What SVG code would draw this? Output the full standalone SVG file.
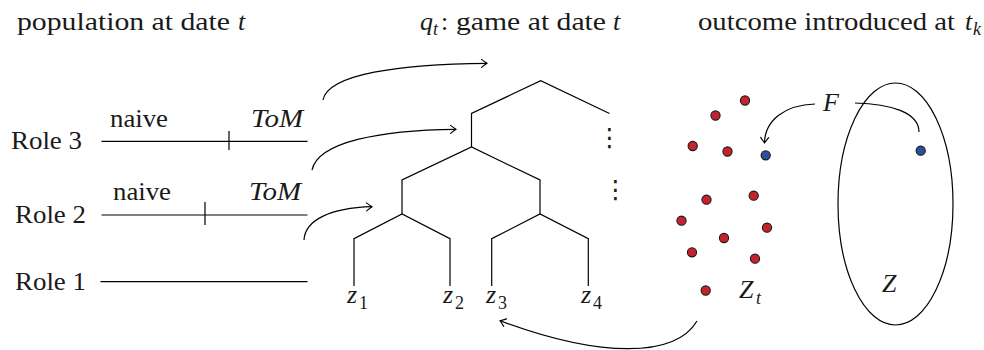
<svg xmlns="http://www.w3.org/2000/svg" width="984" height="350" viewBox="0 0 984 350">
  <defs>
    <marker id="tip" markerUnits="userSpaceOnUse" viewBox="-7 -6 9 12" markerWidth="9" markerHeight="12" refX="0" refY="0" orient="auto" overflow="visible">
      <path d="M -5.5 -4 Q -1.5 -1 0 0 Q -1.5 1 -5.5 4" fill="none" stroke="#000" stroke-width="1.1" stroke-linecap="round"/>
    </marker>
  </defs>

  <!-- all labels share one serif face; italics mark math symbols -->
  <g font-family="Liberation Serif" font-size="26" fill="#1a1a1a">
    <!-- column headings -->
    <g id="heading-population">
      <text x="17" y="30" textLength="213" lengthAdjust="spacingAndGlyphs">population at date</text>
      <text x="238" y="30" font-style="italic">t</text>
    </g>
    <g id="heading-game">
      <text x="420" y="30" font-style="italic">q</text>
      <text x="433" y="35" font-style="italic" font-size="18">t</text>
      <text x="441" y="30">:</text>
      <text x="456" y="30" textLength="150" lengthAdjust="spacingAndGlyphs">game at date</text>
      <text x="613" y="30" font-style="italic">t</text>
    </g>
    <g id="heading-outcome">
      <text x="698" y="30" textLength="257" lengthAdjust="spacingAndGlyphs">outcome introduced at</text>
      <text x="965" y="30" font-style="italic">t</text>
      <text x="973" y="35" font-style="italic" font-size="18">k</text>
    </g>

    <!-- population of each role -->
    <g id="role3">
      <text x="11" y="149" textLength="71" lengthAdjust="spacingAndGlyphs">Role 3</text>
      <text x="110" y="127" textLength="58" lengthAdjust="spacingAndGlyphs">naive</text>
      <text x="251" y="127" font-style="italic" textLength="52" lengthAdjust="spacingAndGlyphs">ToM</text>
      <path d="M101.5,141.3 H307.5 M229,131 V150" fill="none" stroke="#000" stroke-width="1.2"/>
    </g>
    <g id="role2">
      <text x="15" y="223" textLength="71" lengthAdjust="spacingAndGlyphs">Role 2</text>
      <text x="113" y="200" textLength="58" lengthAdjust="spacingAndGlyphs">naive</text>
      <text x="249" y="200" font-style="italic" textLength="52" lengthAdjust="spacingAndGlyphs">ToM</text>
      <path d="M101.5,215 H307.5 M205,202 V225" fill="none" stroke="#000" stroke-width="1.2"/>
    </g>
    <g id="role1">
      <text x="15" y="290" textLength="71" lengthAdjust="spacingAndGlyphs">Role 1</text>
      <path d="M100.5,281.7 H307.5" fill="none" stroke="#000" stroke-width="1.2"/>
    </g>

    <!-- game tree -->
    <g id="game-tree">
      <g fill="none" stroke="#000" stroke-width="1.2">
        <path d="M471.5,147 V113.5 L540.7,80.7 L609.5,113.5"/>
        <path d="M402,214 V180 L471.5,147 L540,180 V214"/>
        <path d="M354,286 V238.7 L402,214 L450,238.7 V286"/>
        <path d="M491.7,286 V238.7 L540,214 L588.3,238.7 V286"/>
      </g>
      <text x="597" y="146" font-family="DejaVu Sans" font-size="25">⋮</text>
      <text x="603" y="198" font-family="DejaVu Sans" font-size="25">⋮</text>
    </g>
    <g id="z1"><text x="347" y="303" font-style="italic">z</text><text x="359" y="309" font-size="18">1</text></g>
    <g id="z2"><text x="443" y="303" font-style="italic">z</text><text x="455" y="309" font-size="18">2</text></g>
    <g id="z3"><text x="486" y="303" font-style="italic">z</text><text x="498" y="309" font-size="18">3</text></g>
    <g id="z4"><text x="581" y="303" font-style="italic">z</text><text x="593" y="309" font-size="18">4</text></g>

    <!-- outcomes reached at date t -->
    <g id="outcomes-Zt">
      <g fill="#c4232d" stroke="#1a1a1a" stroke-width="1.1">
        <circle cx="745" cy="100.5" r="4.6"/>
        <circle cx="715.5" cy="115.5" r="4.6"/>
        <circle cx="692.7" cy="146" r="4.6"/>
        <circle cx="727.5" cy="151.5" r="4.6"/>
        <circle cx="706.5" cy="199.7" r="4.6"/>
        <circle cx="753.7" cy="195.7" r="4.6"/>
        <circle cx="681.5" cy="220.7" r="4.6"/>
        <circle cx="767" cy="227.7" r="4.6"/>
        <circle cx="724" cy="238" r="4.6"/>
        <circle cx="692" cy="252.3" r="4.6"/>
        <circle cx="755" cy="258.7" r="4.6"/>
        <circle cx="705.7" cy="290.5" r="4.6"/>
      </g>
      <circle cx="765.7" cy="155.3" r="4.6" fill="#2d4f9e" stroke="#1a1a1a" stroke-width="1.1"/>
      <text x="739" y="298" font-style="italic">Z</text>
      <text x="756" y="304" font-style="italic" font-size="18">t</text>
    </g>

    <!-- set of all outcomes -->
    <g id="outcome-set-Z">
      <ellipse cx="895.5" cy="204" rx="57.5" ry="121" fill="none" stroke="#000" stroke-width="1.2"/>
      <circle cx="920.7" cy="150.7" r="4.6" fill="#2d4f9e" stroke="#1a1a1a" stroke-width="1.1"/>
      <text x="882" y="292" font-style="italic">Z</text>
    </g>

    <g id="label-F">
      <text x="823" y="111" font-style="italic">F</text>
    </g>
  </g>

  <!-- connectors -->
  <g id="connectors" fill="none" stroke="#000" stroke-width="1.2">
    <path d="M323,100 C328,74 400,64 487,63.3" marker-end="url(#tip)"/>
    <path d="M312,170 C318,142 380,130 456,129.3" marker-end="url(#tip)"/>
    <path d="M304,240 C305,220 330,208 372,206.7" marker-end="url(#tip)"/>
    <path d="M815,104 C785,105 765,120 764.5,143" marker-end="url(#tip)"/>
    <path d="M855,103 C890,104 919,112 919,132"/>
    <path d="M697,321 C675,358 600,358 500,320.7" marker-end="url(#tip)"/>
  </g>
</svg>
